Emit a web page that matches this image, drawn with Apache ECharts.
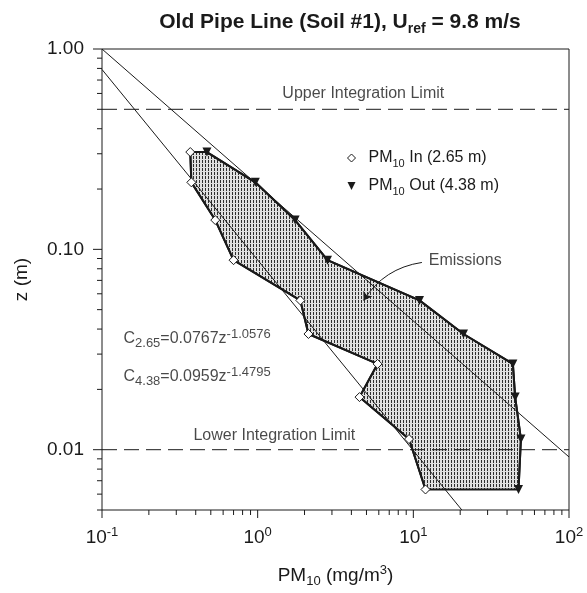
<!DOCTYPE html>
<html>
<head>
<meta charset="utf-8">
<script src="https://cdn.jsdelivr.net/npm/echarts@6.0.0/dist/echarts.min.js"></script>
<style>
  html, body { margin: 0; padding: 0; background: #fff; }
  #chart { width: 587px; height: 593px; }
</style>
</head>
<body>
<div id="chart"></div>
<script>
// sampling heights (m), same for both masts
const zLevels = [0.306, 0.216, 0.140, 0.0883, 0.0556, 0.0378, 0.0268, 0.0183, 0.0113, 0.00633];
// PM10 concentration (mg/m3) at each height
const pmIn  = [0.369, 0.375, 0.534, 0.70, 1.88, 2.12, 5.89, 4.51, 9.38, 11.97];
const pmOut = [0.472, 0.966, 1.74, 2.81, 10.96, 21.0, 43.6, 45.1, 49.1, 47.4];

// power-law fits, end points
const fit265 = [[0.1, 0.79], [20.5, 0.005]];
const fit438 = [[0.1, 1.0], [100, 0.0092]];

const upperLimit = 0.5;
const lowerLimit = 0.01;

const xMajorTicks = [0.1, 1, 10, 100];
const xMinorTicks = [0.2, 0.3, 0.4, 0.5, 0.6, 0.7, 0.8, 0.9,
                     2, 3, 4, 5, 6, 7, 8, 9,
                     20, 30, 40, 50, 60, 70, 80, 90];
const yMajorTicks = [0.01, 0.1, 1];
const yMinorTicks = [0.005, 0.006, 0.007, 0.008, 0.009,
                     0.02, 0.03, 0.04, 0.05, 0.06, 0.07, 0.08, 0.09,
                     0.2, 0.3, 0.4, 0.5, 0.6, 0.7, 0.8, 0.9];

const FONT = '"Liberation Sans", Arial, Helvetica, sans-serif';
const INK = '#1a1a1a';

// dotted fill of the emissions area
const hatch = document.createElement('canvas');
hatch.width = 3; hatch.height = 4;
const hc = hatch.getContext('2d');
hc.fillStyle = '#e0e0e0'; hc.fillRect(0, 0, 3, 4);
hc.fillStyle = '#2e2e2e'; hc.fillRect(1, 0, 1, 3);

const inData = zLevels.map((z, i) => [pmIn[i], z]);
const outData = zLevels.map((z, i) => [pmOut[i], z]);
const shadeData = outData.concat(inData.slice().reverse());

const isDecade = v => Math.abs(Math.log10(v) - Math.round(Math.log10(v))) < 1e-6;

const tickData = (vals, major, axis) => vals.map(v => axis === 'x' ? [v, 0.005, major] : [0.1, v, major]);

const myChart = echarts.init(document.getElementById('chart'));

const option = {
  animation: false,
  title: {
    text: '{t|Old Pipe Line (Soil #1), U}{s|ref}{t| = 9.8 m/s}',
    left: 335, textAlign: 'center', top: 3,
    textStyle: {
      rich: {
        t: { fontSize: 21, fontWeight: 'bold', fontFamily: FONT, color: INK, lineHeight: 28 },
        s: { fontSize: 14, fontWeight: 'bold', fontFamily: FONT, color: INK, lineHeight: 14, verticalAlign: 'bottom' }
      }
    }
  },
  grid: { left: 102, right: 18, top: 49, bottom: 77, show: true, borderColor: INK, borderWidth: 1 },
  legend: {
    data: [
      { name: 'PM10 In (2.65 m)', icon: 'diamond', itemStyle: { color: '#fff', borderColor: INK, borderWidth: 1 } },
      { name: 'PM10 Out (4.38 m)', icon: 'path://M0,0L10,0L5,10Z', itemStyle: { color: INK, borderWidth: 0 } }
    ],
    orient: 'vertical', left: 342, top: 145, itemWidth: 8, itemHeight: 8, itemGap: 9,
    formatter: name => '{g| }{a|PM}{b|10}{a|' + name.slice(4) + '}',
    textStyle: {
      rich: {
        g: { width: 8 },
        a: { fontSize: 16, fontFamily: FONT, color: INK, lineHeight: 22 },
        b: { fontSize: 11, fontFamily: FONT, color: INK, lineHeight: 11, verticalAlign: 'bottom' }
      }
    }
  },
  xAxis: {
    type: 'log', logBase: 10, min: 0.1, max: 100,
    name: '{a|PM}{b|10}{a| (mg/m}{c|3}{a|)}',
    nameLocation: 'middle', nameGap: 54,
    nameTextStyle: {
      rich: {
        a: { fontSize: 19, fontFamily: FONT, color: INK, lineHeight: 24 },
        b: { fontSize: 13, fontFamily: FONT, color: INK, lineHeight: 12, verticalAlign: 'bottom' },
        c: { fontSize: 13, fontFamily: FONT, color: INK, lineHeight: 12, verticalAlign: 'top' }
      }
    },
    axisLine: { show: false }, axisTick: { show: false }, splitLine: { show: false },
    axisLabel: {
      margin: 16,
      formatter: v => isDecade(v) ? '{a|10}{b|' + Math.round(Math.log10(v)) + '}' : '',
      rich: {
        a: { fontSize: 19, fontFamily: FONT, color: INK, lineHeight: 24 },
        b: { fontSize: 13, fontFamily: FONT, color: INK, lineHeight: 12, verticalAlign: 'top' }
      }
    }
  },
  yAxis: {
    type: 'log', logBase: 10, min: 0.005, max: 1,
    name: 'z (m)', nameLocation: 'middle', nameGap: 71,
    nameTextStyle: { fontSize: 19, fontFamily: FONT, color: INK },
    axisLine: { show: false }, axisTick: { show: false }, splitLine: { show: false },
    axisLabel: {
      margin: 18, fontSize: 19, fontFamily: FONT, color: INK,
      formatter: v => isDecade(v) ? v.toFixed(2) : ''
    }
  },
  series: [
    {
      name: 'shade', type: 'custom', silent: true, z: 1,
      data: shadeData, encode: { x: 0, y: 1 },
      renderItem: (params, api) => {
        if (params.dataIndex !== 0) return;
        const pts = shadeData.map(d => api.coord(d));
        return {
          type: 'polygon', shape: { points: pts },
          style: { fill: { type: 'pattern', image: hatch, repeat: 'repeat' }, stroke: INK, lineWidth: 2 }
        };
      }
    },
    {
      type: 'line', silent: true, symbol: 'none', z: 2,
      data: [[0.1, upperLimit], [100, upperLimit]],
      lineStyle: { color: INK, width: 1, type: [15, 7] }
    },
    {
      type: 'line', silent: true, symbol: 'none', z: 2,
      data: [[0.1, lowerLimit], [100, lowerLimit]],
      lineStyle: { color: INK, width: 1, type: [15, 7] }
    },
    {
      type: 'line', silent: true, symbol: 'none', z: 3,
      data: fit265, lineStyle: { color: INK, width: 1 }
    },
    {
      type: 'line', silent: true, symbol: 'none', z: 3,
      data: fit438, lineStyle: { color: INK, width: 1 }
    },
    {
      name: 'PM10 In (2.65 m)', type: 'line', z: 5,
      data: inData, symbol: 'diamond', symbolSize: 9,
      itemStyle: { color: '#fff', borderColor: INK, borderWidth: 1 },
      lineStyle: { color: INK, width: 2 }
    },
    {
      name: 'PM10 Out (4.38 m)', type: 'line', z: 5,
      data: outData, symbol: 'triangle', symbolRotate: 180, symbolSize: 9,
      itemStyle: { color: INK },
      lineStyle: { color: INK, width: 2 }
    },
    {
      type: 'custom', silent: true, clip: false, z: 4,
      data: tickData(xMajorTicks, 1, 'x').concat(tickData(xMinorTicks, 0, 'x')),
      encode: { x: 0, y: 1 },
      renderItem: (params, api) => {
        const p = api.coord([api.value(0), api.value(1)]);
        const len = api.value(2) ? 8 : 5;
        return { type: 'line', shape: { x1: p[0], y1: p[1], x2: p[0], y2: p[1] + len }, style: { stroke: INK, lineWidth: 1 } };
      }
    },
    {
      type: 'custom', silent: true, clip: false, z: 4,
      data: tickData(yMajorTicks, 1, 'y').concat(tickData(yMinorTicks, 0, 'y')),
      encode: { x: 0, y: 1 },
      renderItem: (params, api) => {
        const p = api.coord([api.value(0), api.value(1)]);
        const len = api.value(2) ? 9 : 5;
        return { type: 'line', shape: { x1: p[0], y1: p[1], x2: p[0] - len, y2: p[1] }, style: { stroke: INK, lineWidth: 1 } };
      }
    },
    {
      type: 'scatter', silent: true, z: 6, symbolSize: 1,
      itemStyle: { color: 'rgba(0,0,0,0)' },
      label: {
        show: true, color: INK, fontSize: 16, fontFamily: FONT,
        rich: {
          c: { fontSize: 16, fontFamily: FONT, color: INK, lineHeight: 22 },
          sb: { fontSize: 13, fontFamily: FONT, color: INK, lineHeight: 12, verticalAlign: 'bottom' },
          sp: { fontSize: 13, fontFamily: FONT, color: INK, lineHeight: 12, verticalAlign: 'top' }
        }
      },
      data: [
        { value: [4.77, 0.60], label: { position: 'inside', formatter: 'Upper Integration Limit' } },
        { value: [1.28, 0.0117], label: { position: 'inside', formatter: 'Lower Integration Limit' } },
        { value: [12.47, 0.088], label: { position: 'right', distance: 0, formatter: 'Emissions' } },
        { value: [0.1364, 0.0359], label: { position: 'right', distance: 0, formatter: '{c|C}{sb|2.65}{c|=0.0767z}{sp|-1.0576}' } },
        { value: [0.1364, 0.0232], label: { position: 'right', distance: 0, formatter: '{c|C}{sb|4.38}{c|=0.0959z}{sp|-1.4795}' } }
      ]
    },
    {
      type: 'lines', coordinateSystem: 'cartesian2d', silent: true, z: 6,
      symbol: ['none', 'arrow'], symbolSize: 8,
      lineStyle: { color: INK, width: 1, curveness: -0.23, opacity: 1 },
      data: [{ coords: [[11.35, 0.086], [4.79, 0.0556]] }]
    }
  ]
};

myChart.setOption(option);
</script>
</body>
</html>
